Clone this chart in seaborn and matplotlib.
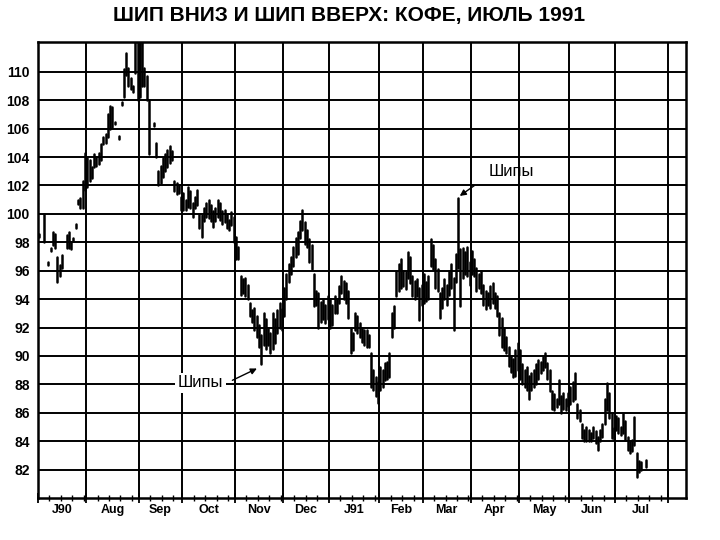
import numpy as np
import pandas as pd
import matplotlib
matplotlib.use("Agg")
import matplotlib.pyplot as plt
import seaborn as sns

# месяцы и число торговых дней в каждом (июль 1990 - июль 1991 + начало августа)
month_names = ["J90", "Aug", "Sep", "Oct", "Nov", "Dec", "J91",
               "Feb", "Mar", "Apr", "May", "Jun", "Jul"]
month_days = [21, 23, 19, 23, 21, 20, 22, 19, 21, 21, 22, 20, 23]
tail_days = 8

nan = np.nan
# дневные максимумы
highs = [
    # Jul 90
    98.6, nan, 100.0, nan, 96.6, 97.6, 98.7, 98.6, 97.0, 96.4, 97.1, nan, 98.5, 98.7, 98.0, 98.3, 99.3, 101.0, 101.1, 102.3, 104.3,
    # Aug
    103.9, 103.8, 103.3, 104.2, 104.0, 104.3, 104.9, 105.4, 105.6, 107.0, 107.6, 107.5, 106.5, nan, 105.5, 107.9, 110.2, 111.3, 110.3, 109.6, 109.0, 112.3, 112.3,
    # Sep
    112.3, 112.3, 110.3, 109.7, 108.0, nan, 106.4, 105.0, 103.0, 103.4, 103.9, 104.2, 104.5, 104.8, 104.4, 102.3, 102.2, 102.0, 101.2,
    # Oct
    101.5, 101.0, 101.9, 101.6, 100.8, 101.2, 101.7, 100.0, 99.9, 100.4, 100.8, 101.0, 100.6, 100.2, 100.4, 101.0, 100.8, 100.2, 100.3, 100.0, 99.6, 100.1, 99.8,
    # Nov
    98.4, 97.7, 95.6, 95.4, 95.5, 95.0, 93.7, 93.2, 93.4, 92.8, 92.2, 91.5, 93.0, 92.6, 92.0, 91.6, 93.0, 92.6, 93.2, 93.7, 93.3,
    # Dec
    94.8, 95.8, 96.5, 97.0, 97.7, 98.3, 98.7, 99.5, 100.3, 99.4, 98.9, 98.2, 97.8, 95.8, 94.6, 94.4, 93.8, 94.0, 93.6, 94.2,
    # Jan 91
    94.0, 93.6, 94.2, 94.0, 94.9, 95.6, 95.3, 95.1, 94.6, 92.0, 91.6, 93.0, 92.8, 92.3, 92.0, 91.8, 91.8, 91.5, 90.2, 89.0, 88.5, 88.2,
    # Feb
    89.2, 89.0, 89.5, 89.6, 90.2, 93.0, 93.5, 96.0, 96.5, 96.8, 96.0, 95.9, 97.3, 97.0, 95.6, 95.3, 95.4, 94.8, 95.0,
    # Mar
    95.8, 95.2, 95.6, 98.2, 97.8, 96.8, 96.1, 94.4, 94.8, 95.4, 95.0, 96.0, 96.5, 95.5, 97.2, 101.1, 97.5, 97.6, 97.3, 97.7, 96.6,
    # Apr
    97.4, 96.8, 96.2, 95.8, 96.0, 95.0, 94.6, 94.4, 94.9, 95.1, 94.4, 94.2, 93.0, 92.7, 92.0, 91.3, 90.6, 90.0, 89.8, 90.4, 90.9,
    # May
    90.4, 89.4, 89.0, 89.2, 88.6, 88.8, 89.0, 89.4, 89.7, 89.6, 89.9, 90.2, 89.5, 89.0, 87.5, 87.3, 87.0, 88.3, 87.2, 87.4, 87.0, 87.4,
    # Jun
    87.8, 88.2, 88.8, 86.6, 86.2, 85.2, 84.8, 85.0, 84.8, 84.6, 85.0, 84.7, 84.3, 84.8, 85.2, 87.0, 88.1, 87.4, 86.0, 84.9,
    # Jul
    85.8, 85.6, 85.0, 86.0, 85.4, 84.3, 84.0, 84.1, 85.7, 83.2, 82.6, 82.5, nan, 82.7, nan, nan, nan, nan, nan, nan, nan, nan, nan,
]
# дневные минимумы
lows = [
    # Jul 90
    98.4, nan, 98.0, nan, 96.4, 97.4, 97.8, 97.6, 95.2, 95.6, 96.2, nan, 97.6, 97.6, 97.5, 98.1, 99.0, 100.7, 100.4, 100.4, 101.7,
    # Aug
    101.9, 102.3, 102.5, 103.3, 103.4, 103.5, 103.8, 104.9, 105.0, 105.4, 106.0, 106.1, 106.3, nan, 105.3, 107.7, 108.2, 109.8, 109.0, 108.8, 108.6, 109.9, 108.0,
    # Sep
    108.2, 109.0, 109.0, 108.0, 104.2, nan, 106.2, 104.0, 102.0, 102.2, 102.6, 103.0, 103.3, 103.6, 103.8, 101.6, 101.4, 101.5, 100.3,
    # Oct
    100.3, 100.3, 100.5, 100.4, 99.8, 100.4, 100.6, 99.0, 98.4, 99.5, 99.8, 99.7, 99.5, 99.1, 99.5, 99.8, 99.6, 99.3, 99.4, 99.0, 98.9, 99.2, 98.0,
    # Nov
    96.8, 96.8, 94.3, 94.4, 94.2, 94.0, 92.8, 92.4, 91.8, 91.3, 90.6, 89.4, 90.8, 90.5, 90.8, 90.2, 90.5, 90.9, 91.6, 92.0, 91.8,
    # Dec
    92.8, 94.0, 95.2, 95.8, 96.3, 97.0, 97.2, 98.3, 98.9, 97.9, 97.7, 96.6, 96.1, 93.5, 93.6, 92.0, 92.4, 92.6, 92.3, 92.6,
    # Jan 91
    92.0, 92.2, 93.0, 93.0, 93.7, 94.4, 94.0, 93.7, 92.7, 90.2, 90.4, 91.8, 91.6, 91.3, 91.0, 90.8, 90.6, 90.6, 87.8, 87.6, 87.2, 86.7,
    # Feb
    87.6, 87.8, 88.3, 88.4, 88.5, 91.3, 92.0, 94.2, 94.6, 94.8, 94.9, 94.7, 95.5, 95.1, 94.2, 94.0, 94.2, 92.5, 93.6,
    # Mar
    93.7, 93.9, 94.0, 96.3, 96.1, 94.8, 94.6, 92.7, 93.4, 94.0, 93.6, 94.3, 94.8, 91.8, 95.2, 96.2, 93.5, 95.5, 95.8, 95.6, 95.0,
    # Apr
    95.8, 95.6, 94.6, 94.8, 94.4, 93.6, 93.3, 93.6, 93.4, 93.7, 93.4, 92.8, 91.5, 90.6, 90.4, 90.2, 89.3, 88.9, 88.5, 88.6, 89.0,
    # May
    88.4, 88.0, 87.8, 87.6, 87.0, 87.6, 87.8, 88.0, 88.4, 88.8, 89.0, 89.2, 88.4, 87.5, 86.3, 86.2, 86.4, 86.6, 86.0, 86.3, 86.2, 86.5,
    # Jun
    86.6, 86.8, 87.0, 85.6, 85.4, 84.2, 84.0, 84.0, 84.0, 84.0, 84.2, 83.9, 83.4, 84.0, 84.3, 85.2, 86.2, 85.6, 84.2, 84.1,
    # Jul
    84.8, 84.6, 84.4, 84.6, 84.1, 83.4, 83.2, 83.3, 83.7, 81.5, 81.8, 82.0, nan, 82.2, nan, nan, nan, nan, nan, nan, nan, nan, nan,
]

# подписи «шипов»: день и цена экстремума
spike_days = [97, 183]
spike_prices = [89.4, 101.1]

# базовые настройки
sns.set_theme(style="white")
plt.rcParams["font.family"] = ["Liberation Sans", "DejaVu Sans"]
plt.rcParams["text.color"] = "black"
plt.rcParams["xtick.color"] = "black"
plt.rcParams["ytick.color"] = "black"

# данные в длинном формате: у каждого дня две точки (max и min)
n_days = len(highs)
bars = pd.DataFrame({"day": np.arange(n_days), "high": highs, "low": lows}).dropna()
long = bars.melt(id_vars="day", value_vars=["high", "low"], value_name="price")

fig = plt.figure(figsize=(7.2, 5.4), dpi=100)
ax = fig.add_axes([38 / 720, 1 - 498 / 540, 648 / 720, 456 / 540])

sns.lineplot(data=long, x="day", y="price", units="day", estimator=None,
             sort=False, color="black", linewidth=1.8, ax=ax, legend=False)

# границы месяцев
starts = np.concatenate([[0], np.cumsum(month_days)])
bounds = starts - 0.5
centers = (bounds[:-1] + bounds[1:]) / 2
weekly = [s + k for i, s in enumerate(starts[:-1]) for k in (5, 10, 15, 20)
          if s + k < starts[i + 1]]

total = sum(month_days) + tail_days
ax.set_xlim(-0.5, total - 0.5)
ax.set_ylim(80.0, 112.1)

ax.set_xticks(bounds)
ax.set_xticks(np.array(weekly) - 0.5, minor=True)
ax.set_xticklabels([])
ax.set_yticks(range(82, 111, 2))
ax.set_yticklabels([str(v) for v in range(82, 111, 2)], fontsize=10, fontweight="bold")
ax.tick_params(axis="y", length=0, pad=6)
ax.tick_params(axis="x", which="major", direction="inout", length=7, width=1.3, color="black", bottom=True)
ax.tick_params(axis="x", which="minor", direction="inout", length=4, width=1.0, color="black", bottom=True)

ax.grid(True, which="major", color="black", linewidth=1.4)
ax.set_xlabel("")
ax.set_ylabel("")
for side in ax.spines.values():
    side.set_color("black")
    side.set_linewidth(1.8)

for c, name in zip(centers, month_names):
    ax.text(c, -0.026, name, transform=ax.get_xaxis_transform(),
            ha="center", va="center", fontsize=9, fontweight="bold")

# подписи «Шипы»
ax.text(196.5, 103.0, "Шипы", fontsize=12, ha="left", va="center")
ax.annotate("", xy=(spike_days[1] - 0.3, spike_prices[1] + 0.05), xytext=(191.0, 102.1),
            arrowprops=dict(arrowstyle="-|>", color="black", lw=1.0, mutation_scale=9))
ax.text(80.5, 88.1, "Шипы", fontsize=12, ha="right", va="center",
        bbox=dict(facecolor="white", edgecolor="none", pad=2))
ax.annotate("", xy=(spike_days[0] - 0.8, spike_prices[0] - 0.2), xytext=(83.3, 88.2),
            arrowprops=dict(arrowstyle="-|>", color="black", lw=1.0, mutation_scale=9))

fig.text(349 / 720, 1 - 16 / 540, "ШИП ВНИЗ И ШИП ВВЕРХ: КОФЕ, ИЮЛЬ 1991",
         ha="center", va="center", fontsize=15, fontweight="bold")

fig.savefig("out.png", dpi=100)
